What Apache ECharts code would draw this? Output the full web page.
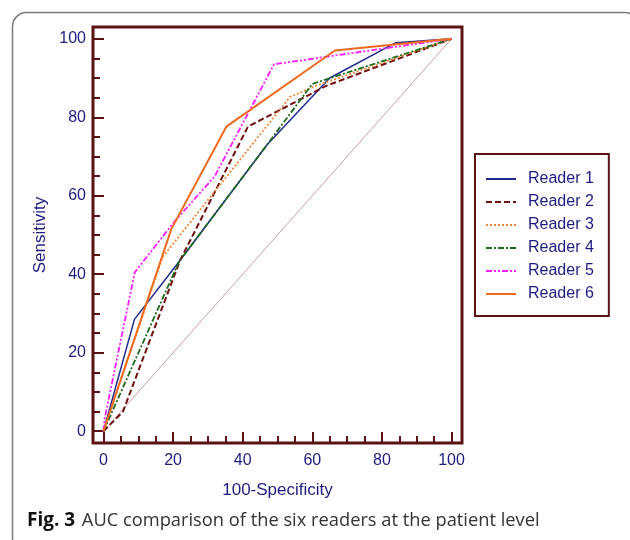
<!DOCTYPE html>
<html>
<head>
<meta charset="utf-8">
<script src="https://cdn.jsdelivr.net/npm/echarts@6/dist/echarts.min.js"></script>
<style>
  html, body { margin: 0; padding: 0; background: #fff; }
  #chart { width: 630px; height: 540px; }
</style>
</head>
<body>
<div id="chart"></div>
<script>
// ROC points [100-Specificity, Sensitivity]
var readerNames = ['Reader 1', 'Reader 2', 'Reader 3', 'Reader 4', 'Reader 5', 'Reader 6'];
var reader1 = [[0, 0], [8.9, 28.5], [21.7, 43.2], [47, 73], [65, 90], [84, 99], [100, 100]];
var reader2 = [[0, 0], [5.6, 5], [22, 43.5], [41.5, 77.6], [64, 88], [100, 100]];
var reader3 = [[0, 0], [17, 44.4], [53.6, 85.2], [61, 88], [100, 100]];
var reader4 = [[0, 0], [21.7, 43.2], [47, 73], [60, 88.5], [100, 100]];
var reader5 = [[0, 0], [0.3, 3], [9, 40.5], [20, 53], [32, 65], [49, 93.5], [100, 100]];
var reader6 = [[0, 0], [19.5, 51.5], [35.3, 77.6], [66.5, 97], [100, 100]];
var chanceLine = [[0, 0], [100, 100]];

var majorTicks = [0, 20, 40, 60, 80, 100];
var minorTicks = [0, 5, 10, 15, 20, 25, 30, 35, 40, 45, 50, 55, 60, 65, 70, 75, 80, 85, 90, 95, 100];

var frameColor = '#5a1212';
var textColor = '#1c1c80';
var font = 'Liberation Sans';

var chart = echarts.init(document.getElementById('chart'));

var mkAxis = function(pos, name, gap) {
  return [{
    type: 'value', min: -3, max: 103, position: pos,
    name: name, nameLocation: 'middle', nameGap: gap,
    nameTextStyle: { color: textColor, fontSize: 17, fontFamily: font },
    axisLine: { show: false, onZero: false },
    splitLine: { show: false },
    axisTick: { show: true, inside: true, length: 11, customValues: majorTicks,
      lineStyle: { color: frameColor, width: 2 } },
    axisLabel: { customValues: majorTicks, color: textColor, fontSize: 16, fontFamily: font,
      margin: pos == 'bottom' ? 10 : 7 }
  }, {
    type: 'value', min: -3, max: 103, position: pos,
    axisLine: { show: false, onZero: false },
    splitLine: { show: false },
    axisTick: { show: true, inside: true, length: 7, customValues: minorTicks,
      lineStyle: { color: frameColor, width: 2 } },
    axisLabel: { show: false }
  }];
};

var lineSeries = function(name, data, color, width, type) {
  return {
    name: name, type: 'line', data: data, symbol: 'none', xAxisIndex: 0, yAxisIndex: 0,
    lineStyle: { color: color, width: width, type: type },
    itemStyle: { color: color },
    emphasis: { disabled: true }
  };
};

var option = {
  animation: false,
  grid: { left: 93, right: 168, top: 27, bottom: 97, show: true,
    borderColor: frameColor, borderWidth: 3 },
  xAxis: mkAxis('bottom', '100-Specificity', 39),
  yAxis: mkAxis('left', 'Sensitivity', 41),
  legend: {
    data: readerNames,
    orient: 'vertical', left: 475, top: 154,
    padding: [16, 15, 13, 10],
    itemWidth: 30, itemHeight: 17, itemGap: 5,
    itemStyle: { opacity: 0 },
    borderColor: frameColor, borderWidth: 2,
    textStyle: { color: textColor, fontSize: 16, fontFamily: font, padding: [0, 0, 0, 7], lineHeight: 18 }
  },
  series: [
    {
      name: 'chance', type: 'line', data: chanceLine, symbol: 'none',
      lineStyle: { color: '#c9a1a1', width: 1 }, silent: true
    },
    lineSeries('Reader 1', reader1, '#1f2a8c', 1.5, 'solid'),
    lineSeries('Reader 2', reader2, '#701010', 2, [6, 3]),
    lineSeries('Reader 3', reader3, '#f0883a', 1.8, [2, 2]),
    lineSeries('Reader 4', reader4, '#1b6b1b', 1.8, [6, 2, 2, 2]),
    lineSeries('Reader 5', reader5, '#ff1aff', 1.8, [6, 2, 2, 2, 2, 2]),
    lineSeries('Reader 6', reader6, '#f06a1e', 2, 'solid')
  ],
  graphic: [
    {
      type: 'rect', left: 10, top: 10, silent: true, z: -10,
      shape: { width: 626, height: 540, r: 14 },
      style: { fill: 'none', stroke: '#7a7a7a', lineWidth: 1.5 }
    },
    {
      type: 'text', left: 27, top: 511, silent: true,
      style: {
        text: '{b|Fig. 3}  {r|AUC comparison of the six readers at the patient level}',
        rich: {
          b: { fontFamily: 'Open Sans', fontWeight: 'bold', fontSize: 19, fill: '#111' },
          r: { fontFamily: 'Open Sans', fontSize: 18.3, fill: '#333' }
        }
      }
    }
  ]
};

chart.setOption(option);
</script>
</body>
</html>
